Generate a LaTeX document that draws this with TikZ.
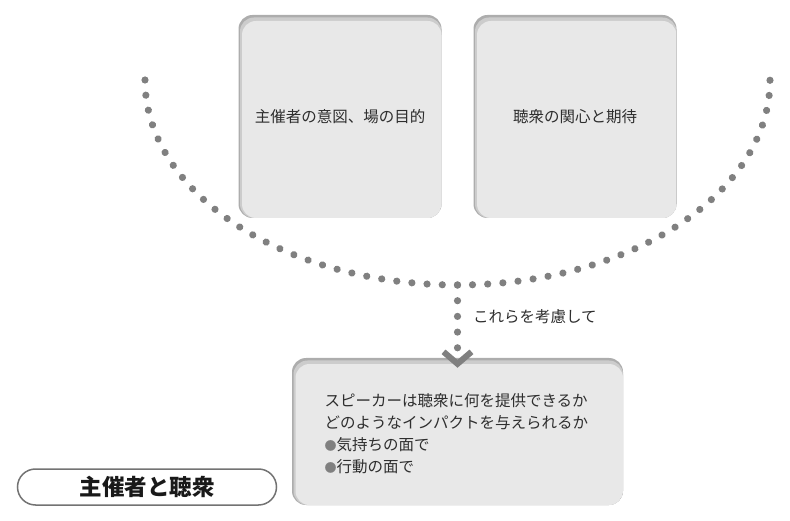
\documentclass[tikz,border=0pt]{standalone}
\usepackage{fontspec}
\setmainfont{Noto Sans CJK JP}
\usetikzlibrary{decorations.markings}
\usetikzlibrary{calc}

\definecolor{dotgray}{HTML}{808080}
\definecolor{panelgray}{HTML}{E8E8E8}
\definecolor{textgray}{HTML}{2E2E2E}

\newcommand{\bulletdot}{{\color{dotgray}\raisebox{0.5pt}{\fontsize{12}{22}\selectfont ●}}}

\tikzset{
  panel/.style={rounded corners=14pt, fill=black!32, inner sep=0pt,
    path picture={
      \fill[black!20, rounded corners=14pt]
        ([xshift=1.5pt,yshift=-2.5pt]path picture bounding box.north west)
        rectangle (path picture bounding box.south east);
      \fill[panelgray, rounded corners=14pt]
        ([xshift=3.5pt,yshift=-6pt]path picture bounding box.north west)
        rectangle (path picture bounding box.south east);
    }},
  dotted path/.style={decoration={markings,
      mark=between positions 0 and 1 step #1 with {\fill[dotgray] (0,0) circle (3.6pt);}},
    postaction={decorate}}
}

\begin{document}
\begin{tikzpicture}[x=1pt, y=1pt, font=\fontsize{15.5}{22}\selectfont, text=textgray]
    \useasboundingbox (0,0) rectangle (790,-521);

    % Two panels at the top
    \node[panel, minimum width=203pt, minimum height=203pt] (host) at (340,-116.5) {};
    \node at (host) {主催者の意図、場の目的};
    \node[panel, minimum width=203pt, minimum height=203pt] (audience) at (575,-116.5) {};
    \node at (audience) {聴衆の関心と期待};

    % Dotted half ellipse
    \coordinate (arcleft) at (145,-80);
    \path[dotted path=1/54] (arcleft) arc[start angle=180, end angle=360, x radius=312.5pt, y radius=205pt];
    \coordinate (arcbot) at (457.5,-285);

    % Bottom panel
    \node[panel, minimum width=331pt, minimum height=147pt] (speaker) at (457.5,-431.5) {};
    \node[anchor=west, align=left] at (321,-434) {%
      スピーカーは聴衆に何を提供できるか\\
      どのようなインパクトを与えられるか\\
      \bulletdot 気持ちの面で\\
      \bulletdot 行動の面で};

    % Connector with chevron
    \coordinate (tip) at ([yshift=10pt]speaker.north);
    \path[dotted path=1/4] (arcbot) -- (tip);
    \draw[dotgray, line width=6pt] ([xshift=-14pt,yshift=-4pt]tip) -- ([yshift=-16pt]tip) -- ([xshift=14pt,yshift=-4pt]tip);
    \node[anchor=west] at ([xshift=12pt]$(arcbot)!0.5!(tip)$) {これらを考慮して};

    % Title pill
    \node[draw=black!55, line width=1.5pt, fill=white, rounded corners=18pt,
          minimum width=259pt, minimum height=36pt, font=\fontsize{22.5}{22}\selectfont\bfseries,
          text=black!90] (title) at (147,-487) {主催者と聴衆};
\end{tikzpicture}
\end{document}
